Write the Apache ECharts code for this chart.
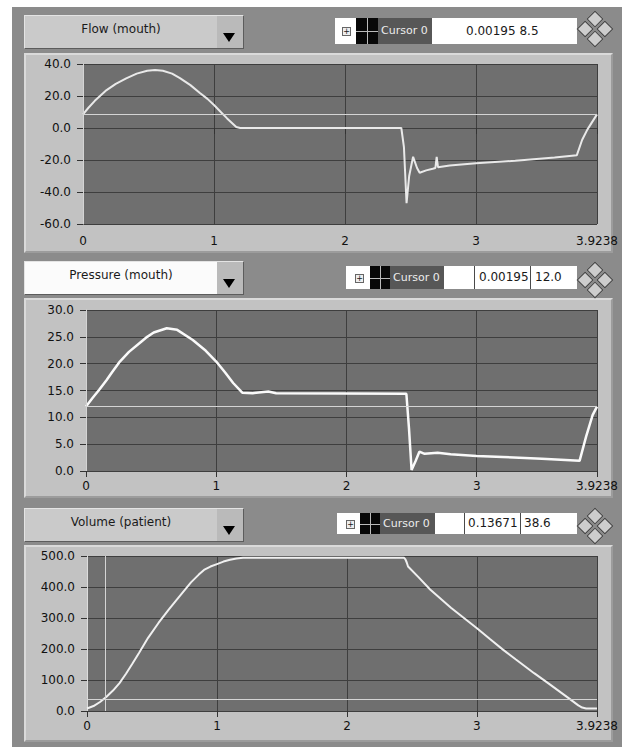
<!DOCTYPE html>
<html>
<head>
<meta charset="utf-8">
<title>Flow / Pressure / Volume</title>
<script src="https://cdn.jsdelivr.net/npm/echarts@6.0.0/dist/echarts.min.js"></script>
<style>
  body {
    margin: 0;
    background: #fff;
    font-family: "DejaVu Sans", sans-serif;
    font-size: 12px;
  }
  #frame {
    position: absolute;
    left: 12px;
    top: 7px;
    width: 610px;
    height: 740px;
    background: #8b8b8b;
  }
  .panel {
    position: absolute;
    left: 24px;
    width: 589px;
    box-sizing: border-box;
    background: #c2c2c2;
    border-top: 2px solid #dadada;
    border-left: 2px solid #dadada;
    border-bottom: 2px solid #9c9c9c;
    border-right: 2px solid #9c9c9c;
  }
  .ring {
    position: absolute;
    left: 24px;
    width: 220px;
    height: 34px;
    box-sizing: border-box;
    border: 1px solid;
    border-color: #e4e4e4 #5c5c5c #5c5c5c #e4e4e4;
    background: #cacaca;
  }
  .ring .txt {
    position: absolute;
    left: 0;
    top: 0;
    width: 192px;
    height: 100%;
    line-height: 26px;
    text-align: center;
    color: #1a1a1a;
  }
  .ring.white .txt {
    background: #fbfbfb;
  }
  .ring .btn {
    position: absolute;
    right: 0;
    top: 0;
    width: 26px;
    height: 100%;
    background: #bababa;
  }
  .ring .btn::after {
    content: "";
    position: absolute;
    left: 6px;
    top: 17px;
    border-left: 6px solid transparent;
    border-right: 6px solid transparent;
    border-top: 9px solid #000;
  }
  .cur {
    position: absolute;
    background: #fff;
    color: #1a1a1a;
  }
  .cur .plus {
    position: absolute;
    width: 7px;
    height: 7px;
    top: 50%;
    margin-top: -4px;
    border: 1px solid #666;
    background: #eee;
    font-size: 8px;
    line-height: 7px;
    text-align: center;
  }
  .cur .icon {
    position: absolute;
    top: 0;
    height: 100%;
    background: #080808;
  }
  .cur .icon::before, .cur .icon::after {
    content: "";
    position: absolute;
    background: #bbb;
  }
  .cur .icon::before { left: 0; right: 0; top: 50%; height: 1px; }
  .cur .icon::after { top: 0; bottom: 0; left: 50%; width: 1px; }
  .cur .name {
    position: absolute;
    top: 0;
    height: 100%;
    background: #575757;
    color: #ececec;
    padding-left: 3px;
    box-sizing: border-box;
    font-size: 11px;
  }
  .cur .val { position: absolute; top: 0; height: 100%; }
  .cur .sep { position: absolute; top: 0; width: 1px; height: 100%; background: #4a4a4a; }
  .dia {
    position: absolute;
    width: 26px;
    height: 26px;
    transform: rotate(45deg);
  }
  .dia span {
    position: absolute;
    width: 12px;
    height: 12px;
    box-sizing: border-box;
    background: #cdcdcd;
    border: 1px solid #3f3f3f;
  }
  #chart {
    position: absolute;
    left: 0;
    top: 0;
    width: 622px;
    height: 747px;
  }
</style>
</head>
<body>
<div id="frame"></div>

<div class="panel" style="top:53px;height:200px"></div>
<div class="panel" style="top:298px;height:200px"></div>
<div class="panel" style="top:545px;height:197px"></div>

<div class="ring" style="top:15px"><div class="txt">Flow (mouth)</div><div class="btn"></div></div>
<div class="ring white" style="top:261px"><div class="txt">Pressure (mouth)</div><div class="btn"></div></div>
<div class="ring" style="top:508px"><div class="txt">Volume (patient)</div><div class="btn"></div></div>

<div class="cur" style="left:335px;top:18px;width:242px;height:26px;line-height:26px">
  <div class="plus" style="left:7px">+</div>
  <div class="icon" style="left:21px;width:22px"></div>
  <div class="name" style="left:43px;width:54px">Cursor 0</div>
  <div class="val" id="c0" style="left:131px"></div>
</div>
<div class="cur" style="left:346px;top:266px;width:231px;height:23px;line-height:23px">
  <div class="plus" style="left:9px">+</div>
  <div class="icon" style="left:24px;width:20px"></div>
  <div class="name" style="left:44px;width:54px">Cursor 0</div>
  <div class="sep" style="left:128px"></div>
  <div class="val" id="c1x" style="left:133px"></div>
  <div class="sep" style="left:184px"></div>
  <div class="val" id="c1y" style="left:189px"></div>
</div>
<div class="cur" style="left:337px;top:513px;width:240px;height:21px;line-height:21px">
  <div class="plus" style="left:9px">+</div>
  <div class="icon" style="left:23px;width:20px"></div>
  <div class="name" style="left:43px;width:55px">Cursor 0</div>
  <div class="sep" style="left:127px"></div>
  <div class="val" id="c2x" style="left:131px"></div>
  <div class="sep" style="left:183px"></div>
  <div class="val" id="c2y" style="left:187px"></div>
</div>

<div class="dia" style="left:582px;top:16px"><span style="left:0;top:0"></span><span style="left:14px;top:0"></span><span style="left:0;top:14px"></span><span style="left:14px;top:14px"></span></div>
<div class="dia" style="left:582px;top:267px"><span style="left:0;top:0"></span><span style="left:14px;top:0"></span><span style="left:0;top:14px"></span><span style="left:14px;top:14px"></span></div>
<div class="dia" style="left:582px;top:513px"><span style="left:0;top:0"></span><span style="left:14px;top:0"></span><span style="left:0;top:14px"></span><span style="left:14px;top:14px"></span></div>

<div id="chart"></div>

<script>
// time axis (s)
const tMax = 3.9238;
const xTicks = [0, 1, 2, 3, 3.9238];

// Flow (mouth)
const flowTime = [0, 0.04, 0.09, 0.18, 0.25, 0.33, 0.41, 0.49, 0.55, 0.61, 0.68, 0.74, 0.82,
  0.89, 0.95, 1.0, 1.05, 1.1, 1.17, 1.2,
  2.43, 2.45, 2.47, 2.49, 2.52, 2.55, 2.57, 2.62, 2.67, 2.69, 2.7, 2.71, 2.8, 3.0, 3.3, 3.6,
  3.77, 3.81, 3.85, 3.9238];
const flowValue = [8.5, 12.5, 17, 23.7, 27.6, 31, 34, 35.8, 36.2, 35.8, 34, 31.2, 26.8,
  22, 18.2, 14.4, 10.2, 6, 0.6, 0,
  0, -12, -47, -30, -18, -25, -28, -26.5, -25.5, -25, -18, -24.5, -23.5, -22, -20.5, -18.5,
  -17, -7.5, -1, 8.5];

// Pressure (mouth)
const pressTime = [0, 0.05, 0.1, 0.16, 0.2, 0.26, 0.33, 0.41, 0.47, 0.52, 0.62, 0.7, 0.82,
  0.92, 1.0, 1.07, 1.13, 1.2, 1.28, 1.4, 1.46, 2.46, 2.48, 2.5, 2.53, 2.56, 2.6, 2.7, 2.8,
  3.0, 3.2, 3.5, 3.79, 3.84, 3.89, 3.9238];
const pressValue = [12.0, 13.6, 15.1, 17, 18.4, 20.4, 22.2, 23.8, 25, 25.8, 26.6, 26.3, 24.4,
  22.4, 20.4, 18.3, 16.4, 14.6, 14.5, 14.8, 14.5, 14.4, 8, 0.2, 1.8, 3.6, 3.2, 3.4, 3.1,
  2.8, 2.6, 2.3, 1.9, 6.4, 10.4, 12.0];

// Volume (patient)
const volTime = [0, 0.05, 0.1, 0.15, 0.2, 0.25, 0.3, 0.35, 0.4, 0.47, 0.55, 0.63, 0.71, 0.8,
  0.86, 0.9, 0.95, 1.0, 1.05, 1.1, 1.15, 1.2, 2.44, 2.45, 2.46, 2.47, 2.55, 2.64, 2.8, 3.0,
  3.1, 3.2, 3.3, 3.44, 3.55, 3.7, 3.78, 3.81, 3.84, 3.9238];
const volValue = [8, 16, 29, 46, 66, 90, 120, 153, 187, 236, 284, 328, 369, 415,
  440, 455, 466, 474, 482, 488, 492, 494, 494, 489, 479, 466, 432, 392, 333, 267,
  232, 198, 166, 122, 89, 43, 18, 11, 8, 8];

// y scales
const yMin = [-60, 0, 0];
const yMax = [40, 30, 500];
const yStep = [20, 5, 100];

// cursor 0 of each graph
const cursorX = [0.00195, 0.00195, 0.13671];
const cursorY = [8.5, 12.0, 38.6];

document.getElementById("c0").textContent = cursorX[0] + " " + cursorY[0].toFixed(1);
document.getElementById("c1x").textContent = cursorX[1];
document.getElementById("c1y").textContent = cursorY[1].toFixed(1);
document.getElementById("c2x").textContent = cursorX[2];
document.getElementById("c2y").textContent = cursorY[2].toFixed(1);

const zip = (xs, ys) => xs.map((x, i) => [x, ys[i]]);
const seriesData = [zip(flowTime, flowValue), zip(pressTime, pressValue), zip(volTime, volValue)];

const grids = [
  { left: 83, top: 64, width: 514, height: 160 },
  { left: 86, top: 310, width: 511, height: 161 },
  { left: 87, top: 556, width: 510, height: 155 },
];
const labelMargins = [11, 9, 9];
const lineColors = ["#e9e9e9", "#fafafa", "#f0f0f0"];
const lineWidths = [2, 2.5, 2];

const font = { color: "#111", fontSize: 12, fontFamily: "DejaVu Sans" };

const option = {
  animation: false,
  grid: grids.map((g) => ({ ...g, show: true, backgroundColor: "#6f6f6f", borderWidth: 0 })),
  xAxis: grids.map((g, i) => ({
    gridIndex: i,
    type: "value",
    min: 0,
    max: tMax,
    interval: 1,
    axisLine: { show: false },
    axisTick: { show: true, length: 6, customValues: xTicks, lineStyle: { color: "#333" } },
    axisLabel: { ...font, margin: labelMargins[i], customValues: xTicks, formatter: (v) => String(v) },
    splitLine: { show: true, lineStyle: { color: "#3e3e3e", width: 1 } },
  })),
  yAxis: grids.map((g, i) => ({
    gridIndex: i,
    type: "value",
    min: yMin[i],
    max: yMax[i],
    interval: yStep[i],
    axisLine: { show: true, lineStyle: { color: "#dcdcdc", width: 1 } },
    axisTick: { show: true, length: 6, lineStyle: { color: "#333" } },
    axisLabel: { ...font, margin: 12, formatter: (v) => v.toFixed(1) },
    splitLine: { show: true, lineStyle: { color: "#3e3e3e", width: 1 } },
  })),
  series: seriesData.map((d, i) => ({
    type: "line",
    xAxisIndex: i,
    yAxisIndex: i,
    data: d,
    showSymbol: false,
    lineStyle: { color: lineColors[i], width: lineWidths[i] },
    emphasis: { disabled: true },
    markLine: {
      silent: true,
      symbol: ["none", "none"],
      label: { show: false },
      lineStyle: { color: "#d4d4d4", width: 1, type: "solid" },
      data: [{ yAxis: cursorY[i] }, { xAxis: cursorX[i] }],
    },
  })),
};

const dom = document.getElementById("chart");
echarts.init(dom, null, { renderer: "svg" }).setOption(option);
</script>
</body>
</html>
